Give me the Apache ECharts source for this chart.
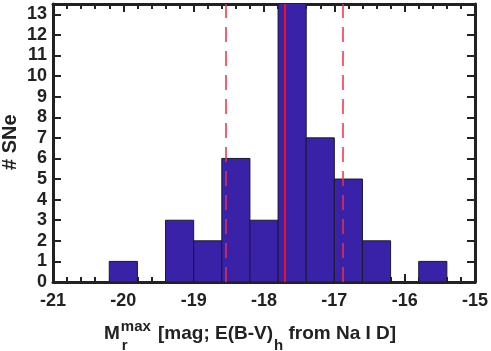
<!DOCTYPE html>
<html>
<head>
<meta charset="utf-8">
<script src="https://cdn.jsdelivr.net/npm/echarts@6/dist/echarts.min.js"></script>
<style>
  html, body { margin: 0; padding: 0; background: #fff; }
  #chart { width: 491px; height: 351px; }
</style>
</head>
<body>
<div id="chart"></div>
<script>
// histogram bins (left edges), width 0.4 mag
const binLeft = [-20.2, -19.8, -19.4, -19.0, -18.6, -18.2, -17.8, -17.4, -17.0, -16.6, -16.2, -15.8];
const counts  = [1, 0, 3, 2, 6, 3, 14, 7, 5, 2, 0, 1];
const BIN_W = 0.4;

// vertical reference lines
const medianMag = -17.71;
const spreadMags = [-18.55, -16.88];

// tick values
const xTicks = [-21, -20, -19, -18, -17, -16, -15];
const yTicks = [0, 1, 2, 3, 4, 5, 6, 7, 8, 9, 10, 11, 12, 13];

const FONT = "Liberation Sans, Arial, sans-serif";
const AXIS_COLOR = "#222";
const BAR_COLOR = "#3a22a8";
const MAIN_FONT = "bold 19px " + FONT;
const SUP_FONT = "bold 15px " + FONT;

const chart = echarts.init(document.getElementById("chart"), null, { renderer: "canvas" });

const histData = binLeft
  .map((x, i) => [x, x + BIN_W, counts[i]])
  .filter((d) => d[2] > 0);

// measure text widths so the title pieces join up
const ctx = document.createElement("canvas").getContext("2d");
function textW(str, font) {
  ctx.font = font;
  return ctx.measureText(str).width;
}

function xAxisCfg(pos, showLabel) {
  return {
    type: "value",
    position: pos,
    min: -21,
    max: -15,
    interval: 1,
    axisLine: { show: true, onZero: false, lineStyle: { color: AXIS_COLOR, width: 3 } },
    axisTick: { show: true, inside: true, length: 8, lineStyle: { color: AXIS_COLOR, width: 2 } },
    minorTick: { show: true, splitNumber: 5, length: 5, lineStyle: { color: AXIS_COLOR, width: 2 } },
    splitLine: { show: false },
    axisLabel: {
      show: showLabel,
      margin: 10,
      color: "#222",
      fontFamily: FONT,
      fontWeight: "bold",
      fontSize: 18,
      customValues: xTicks,
    },
  };
}

function yAxisCfg(pos, showLabel) {
  return {
    type: "value",
    position: pos,
    min: 0,
    max: 13.5,
    interval: 1,
    axisLine: { show: true, onZero: false, lineStyle: { color: AXIS_COLOR, width: 3 } },
    axisTick: { show: true, inside: true, length: 8, customValues: yTicks, lineStyle: { color: AXIS_COLOR, width: 2 } },
    splitLine: { show: false },
    axisLabel: {
      show: showLabel,
      margin: 6,
      color: "#222",
      fontFamily: FONT,
      fontWeight: "bold",
      fontSize: 18,
      customValues: yTicks,
    },
  };
}

// x-axis title pieces: M_r^max [mag; E(B-V)_h from Na I D]
const titleY = 324;
const mX = 104;
const supX = mX + textW("M", MAIN_FONT) + 1;
const bracketX = 158;
const hX = bracketX + textW("[mag; E(B-V)", MAIN_FONT) + 1;
const fromX = hX + textW("h", SUP_FONT);

chart.setOption({
  animation: false,
  backgroundColor: "#fff",
  grid: { left: 53, right: 12, top: 4, bottom: 69 },
  xAxis: [xAxisCfg("bottom", true), xAxisCfg("top", false)],
  yAxis: [yAxisCfg("left", true), yAxisCfg("right", false)],
  series: [
    {
      type: "custom",
      clip: true,
      data: histData,
      renderItem: (params, api) => {
        const p0 = api.coord([api.value(0), api.value(2)]);
        const p1 = api.coord([api.value(1), 0]);
        return {
          type: "rect",
          shape: { x: p0[0], y: p0[1], width: p1[0] - p0[0], height: p1[1] - p0[1] },
          style: { fill: BAR_COLOR, stroke: "#1a1a2a", lineWidth: 1 },
        };
      },
      z: 2,
    },
    {
      type: "line",
      data: [],
      z: 5,
      markLine: {
        silent: true,
        symbol: "none",
        label: { show: false },
        emphasis: { disabled: true },
        data: [
          { xAxis: medianMag, lineStyle: { color: "#ee1122", width: 2, type: "solid", opacity: 1 } },
          ...spreadMags.map((v) => ({
            xAxis: v,
            lineStyle: { color: "#f03040", width: 1.5, type: [15, 9], opacity: 1 },
          })),
        ],
      },
    },
  ],
  graphic: [
    {
      type: "text",
      x: 0,
      y: 170,
      rotation: Math.PI / 2,
      style: { text: "# SNe", font: "bold 20px " + FONT, fill: "#222" },
    },
    { type: "text", x: mX, y: titleY, style: { text: "M", font: MAIN_FONT, fill: "#222" } },
    { type: "text", x: supX, y: titleY - 5, style: { text: "max", font: SUP_FONT, fill: "#222" } },
    { type: "text", x: supX + 1, y: titleY + 14, style: { text: "r", font: SUP_FONT, fill: "#222" } },
    { type: "text", x: bracketX, y: titleY, style: { text: "[mag; E(B-V)", font: MAIN_FONT, fill: "#222" } },
    { type: "text", x: hX, y: titleY + 14, style: { text: "h", font: SUP_FONT, fill: "#222" } },
    { type: "text", x: fromX, y: titleY, style: { text: " from Na I D]", font: MAIN_FONT, fill: "#222" } },
  ],
});

window.addEventListener("resize", () => chart.resize());
</script>
</body>
</html>
